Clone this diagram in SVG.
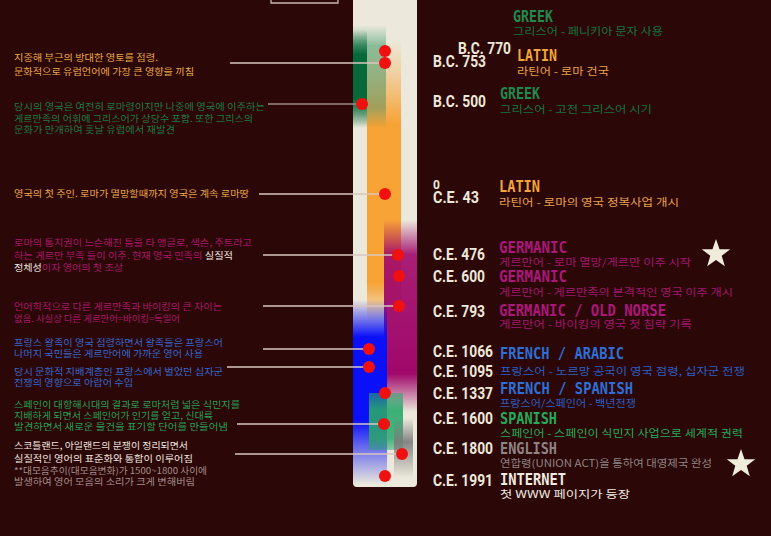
<svg xmlns="http://www.w3.org/2000/svg" width="771" height="536" viewBox="0 0 771 536">
<defs>
<style>
.bg{fill:#2c0707}
.date{font-family:Roboto,"DejaVu Sans",sans-serif;font-weight:bold;font-size:16px;fill:#eee8da}
.ttl{font-family:"DejaVu Sans Mono","Liberation Mono",monospace;font-weight:bold;font-size:16px}
.sub{font-family:"Noto Sans CJK KR","Noto Sans",sans-serif;font-size:10px}
.lt{font-family:"Noto Sans CJK KR","Noto Sans",sans-serif;font-size:9.2px}
.conn line{stroke:#d8c6bf;stroke-width:1.3}
.dot{fill:#f01010}
.star{fill:#f0ecdc}
.g1{fill:#1f8a4e}.g2{fill:#147442}
.o1{fill:#f2a53a}.o2{fill:#e9a04a}
.m1{fill:#ab177a}.m2{fill:#a0176e}
.b1{fill:#2c6fd6}.b2{fill:#2a5ec4}
.s1{fill:#25aa5a}
.e1{fill:#8e8484}
.w1{fill:#f0ebe0}
.lo{fill:#e9a84a}.lg{fill:#1d7a46}.lm{fill:#a9186c}.lb{fill:#3767cf}.lgs{fill:#24a055}.lw{fill:#f0e8e0}.lp{fill:#a58d8d}
</style>
<linearGradient id="gOr" x1="0" y1="0" x2="0" y2="1">
<stop offset="0" stop-color="#f7a030" stop-opacity="0"/>
<stop offset="0.12" stop-color="#f7a030" stop-opacity="0.35"/>
<stop offset="0.3" stop-color="#f7a030" stop-opacity="0.97"/>
<stop offset="0.86" stop-color="#f7a030" stop-opacity="0.97"/>
<stop offset="1" stop-color="#f7a030" stop-opacity="0"/>
</linearGradient>
<linearGradient id="gGrL" x1="0" y1="0" x2="0" y2="1">
<stop offset="0" stop-color="#3a9a6a" stop-opacity="0"/>
<stop offset="0.2" stop-color="#3a9a6a" stop-opacity="0.55"/>
<stop offset="0.8" stop-color="#3a8a5a" stop-opacity="0.45"/>
<stop offset="1" stop-color="#3a8a5a" stop-opacity="0"/>
</linearGradient>
<linearGradient id="gGrD" x1="0" y1="0" x2="0" y2="1">
<stop offset="0" stop-color="#07683a" stop-opacity="0"/>
<stop offset="0.25" stop-color="#07683a" stop-opacity="1"/>
<stop offset="0.7" stop-color="#07683a" stop-opacity="1"/>
<stop offset="1" stop-color="#07683a" stop-opacity="0"/>
</linearGradient>
<linearGradient id="gMg" x1="0" y1="0" x2="0" y2="1">
<stop offset="0" stop-color="#a0086a" stop-opacity="0"/>
<stop offset="0.18" stop-color="#a0086a" stop-opacity="0.9"/>
<stop offset="0.8" stop-color="#a0086a" stop-opacity="1"/>
<stop offset="1" stop-color="#a0086a" stop-opacity="0"/>
</linearGradient>
<linearGradient id="gBl" x1="0" y1="0" x2="0" y2="1">
<stop offset="0" stop-color="#0a10f8" stop-opacity="0"/>
<stop offset="0.2" stop-color="#0a10f8" stop-opacity="1"/>
<stop offset="0.65" stop-color="#0a10f8" stop-opacity="1"/>
<stop offset="1" stop-color="#0a10f8" stop-opacity="0"/>
</linearGradient>
<linearGradient id="gSp" x1="0" y1="0" x2="0" y2="1">
<stop offset="0" stop-color="#2aa86c" stop-opacity="0.55"/>
<stop offset="0.3" stop-color="#2aa86c" stop-opacity="0.9"/>
<stop offset="0.8" stop-color="#2aa86c" stop-opacity="0.85"/>
<stop offset="1" stop-color="#2aa86c" stop-opacity="0.5"/>
</linearGradient>
<linearGradient id="gGy" x1="0" y1="0" x2="0" y2="1">
<stop offset="0" stop-color="#7a7a7a" stop-opacity="0"/>
<stop offset="0.4" stop-color="#7a7a7a" stop-opacity="0.9"/>
<stop offset="1" stop-color="#7a7a7a" stop-opacity="0"/>
</linearGradient>
<polygon id="starShape" points="0,-15 3.53,-4.85 14.27,-4.64 5.71,1.85 8.82,12.14 0,6 -8.82,12.14 -5.71,1.85 -14.27,-4.64 -3.53,-4.85"/>
</defs>
<rect class="bg" x="0" y="0" width="771" height="536"/>
<path d="M271 0 V3 H338 V0" fill="none" stroke="#c8b8b0" stroke-width="1.3"/>

<g id="timeline-bar">
<rect x="353" y="-6" width="64" height="493" rx="4" fill="#ece9dc"/>
<rect x="367" y="40" width="34" height="282" fill="url(#gOr)"/>
<rect x="353" y="25" width="33" height="103" fill="url(#gGrL)"/>
<rect x="353" y="30" width="14" height="98" fill="url(#gGrD)"/>
<rect x="384" y="220" width="33" height="192" fill="url(#gMg)"/>
<rect x="353" y="300" width="34" height="185" fill="url(#gBl)"/>
<rect x="369" y="393" width="34" height="57" fill="url(#gSp)"/>
<rect x="394" y="418" width="19" height="60" fill="url(#gGy)"/>
</g>

<g id="connectors" class="conn">
<line x1="230" y1="63" x2="385" y2="63"/>
<line x1="268" y1="104" x2="362" y2="104" style="stroke:#9c8a8a"/>
<line x1="259" y1="194" x2="385" y2="194"/>
<line x1="263" y1="255" x2="398" y2="255"/>
<line x1="263" y1="306" x2="399" y2="306"/>
<line x1="263" y1="349" x2="369" y2="349"/>
<line x1="227" y1="367" x2="369" y2="367"/>
<line x1="237" y1="424" x2="384" y2="424"/>
<line x1="235" y1="454" x2="402" y2="454"/>
</g>

<g id="dots">
<circle class="dot" cx="385" cy="51" r="6"/>
<circle class="dot" cx="385" cy="63" r="6"/>
<circle class="dot" cx="362" cy="104" r="6"/>
<circle class="dot" cx="385" cy="194" r="6"/>
<circle class="dot" cx="398" cy="255" r="6"/>
<circle class="dot" cx="399" cy="276" r="6"/>
<circle class="dot" cx="399" cy="306" r="6"/>
<circle class="dot" cx="369" cy="349" r="6"/>
<circle class="dot" cx="369" cy="367" r="6"/>
<circle class="dot" cx="385" cy="393" r="6"/>
<circle class="dot" cx="384" cy="424" r="6"/>
<circle class="dot" cx="402" cy="454" r="6"/>
<circle class="dot" cx="385" cy="476" r="6"/>
</g>

<g id="node-bc770">
<text class="date" x="458" y="54" textLength="53" lengthAdjust="spacingAndGlyphs">B.C. 770</text>
<text class="ttl g1" x="513" y="22" textLength="40" lengthAdjust="spacingAndGlyphs">GREEK</text>
<text class="sub g2" x="513" y="35" textLength="150" lengthAdjust="spacingAndGlyphs">그리스어 - 페니키아 문자 사용</text>
</g>
<g id="node-bc753">
<text class="date" x="433" y="67" textLength="53" lengthAdjust="spacingAndGlyphs">B.C. 753</text>
<text class="ttl o1" x="517" y="61" textLength="40" lengthAdjust="spacingAndGlyphs">LATIN</text>
<text class="sub o2" x="517" y="75" textLength="92" lengthAdjust="spacingAndGlyphs">라틴어 - 로마 건국</text>
</g>
<g id="node-bc500">
<text class="date" x="433" y="107" textLength="53" lengthAdjust="spacingAndGlyphs">B.C. 500</text>
<text class="ttl g1" x="500" y="99" textLength="40" lengthAdjust="spacingAndGlyphs">GREEK</text>
<text class="sub g2" x="500" y="113" textLength="152" lengthAdjust="spacingAndGlyphs">그리스어 - 고전 그리스어 시기</text>
</g>
<g id="node-ce43">
<text class="date" x="433" y="189" style="font-size:12px">0</text>
<text class="date" x="433" y="203" textLength="46" lengthAdjust="spacingAndGlyphs">C.E. 43</text>
<text class="ttl o1" x="499" y="192" textLength="41" lengthAdjust="spacingAndGlyphs">LATIN</text>
<text class="sub o2" x="499" y="206" textLength="180" lengthAdjust="spacingAndGlyphs">라틴어 - 로마의 영국 정복사업 개시</text>
</g>
<g id="node-ce476">
<text class="date" x="433" y="260" textLength="52" lengthAdjust="spacingAndGlyphs">C.E. 476</text>
<text class="ttl m1" x="499" y="253" textLength="68" lengthAdjust="spacingAndGlyphs">GERMANIC</text>
<text class="sub m2" x="499" y="266" textLength="192" lengthAdjust="spacingAndGlyphs">게르만어 - 로마 멸망/게르만 이주 시작</text>
<use href="#starShape" class="star" x="716" y="254"/>
</g>
<g id="node-ce600">
<text class="date" x="433" y="282" textLength="52" lengthAdjust="spacingAndGlyphs">C.E. 600</text>
<text class="ttl m1" x="499" y="282" textLength="68" lengthAdjust="spacingAndGlyphs">GERMANIC</text>
<text class="sub m2" x="499" y="296" textLength="234" lengthAdjust="spacingAndGlyphs">게르만어 - 게르만족의 본격적인 영국 이주 개시</text>
</g>
<g id="node-ce793">
<text class="date" x="433" y="317" textLength="52" lengthAdjust="spacingAndGlyphs">C.E. 793</text>
<text class="ttl m1" x="499" y="316" textLength="167" lengthAdjust="spacingAndGlyphs">GERMANIC / OLD NORSE</text>
<text class="sub m2" x="499" y="328" textLength="193" lengthAdjust="spacingAndGlyphs">게르만어 - 바이킹의 영국 첫 침략 기록</text>
</g>
<g id="node-ce1066">
<text class="date" x="433" y="357" textLength="60" lengthAdjust="spacingAndGlyphs">C.E. 1066</text>
<text class="date" x="433" y="377" textLength="60" lengthAdjust="spacingAndGlyphs">C.E. 1095</text>
<text class="ttl b1" x="500" y="359" textLength="124" lengthAdjust="spacingAndGlyphs">FRENCH / ARABIC</text>
<text class="sub b2" x="500" y="375" textLength="245" lengthAdjust="spacingAndGlyphs">프랑스어 - 노르망 공국이 영국 점령, 십자군 전쟁</text>
</g>
<g id="node-ce1337">
<text class="date" x="433" y="399" textLength="60" lengthAdjust="spacingAndGlyphs">C.E. 1337</text>
<text class="ttl b1" x="500" y="394" textLength="133" lengthAdjust="spacingAndGlyphs">FRENCH / SPANISH</text>
<text class="sub b2" x="500" y="407" textLength="136" lengthAdjust="spacingAndGlyphs">프랑스어/스페인어 - 백년전쟁</text>
</g>
<g id="node-ce1600">
<text class="date" x="433" y="424" textLength="60" lengthAdjust="spacingAndGlyphs">C.E. 1600</text>
<text class="ttl s1" x="500" y="424" textLength="57" lengthAdjust="spacingAndGlyphs">SPANISH</text>
<text class="sub s1" x="500" y="437" textLength="243" lengthAdjust="spacingAndGlyphs">스페인어 - 스페인이 식민지 사업으로 세계적 권력</text>
</g>
<g id="node-ce1800">
<text class="date" x="433" y="454" textLength="60" lengthAdjust="spacingAndGlyphs">C.E. 1800</text>
<text class="ttl e1" x="500" y="454" textLength="57" lengthAdjust="spacingAndGlyphs">ENGLISH</text>
<text class="sub e1" x="500" y="467" textLength="212" lengthAdjust="spacingAndGlyphs">연합령(UNION ACT)을 통하여 대영제국 완성</text>
<use href="#starShape" class="star" x="741" y="464"/>
</g>
<g id="node-ce1991">
<text class="date" x="433" y="486" textLength="60" lengthAdjust="spacingAndGlyphs">C.E. 1991</text>
<text class="ttl w1" x="500" y="485" textLength="66" lengthAdjust="spacingAndGlyphs">INTERNET</text>
<text class="sub w1" x="500" y="498" textLength="130" lengthAdjust="spacingAndGlyphs">첫 WWW 페이지가 등장</text>
</g>

<g id="notes">
<g id="note-latin-empire" class="lt lo">
<text x="14" y="61" textLength="144" lengthAdjust="spacingAndGlyphs">지중해 부근의 방대한 영토를 점령.</text>
<text x="14" y="75" textLength="180" lengthAdjust="spacingAndGlyphs">문화적으로 유럽언어에 가장 큰 영향을 끼침</text>
</g>
<g id="note-greek" class="lt lg">
<text x="14" y="110" textLength="251" lengthAdjust="spacingAndGlyphs">당시의 영국은 여전히 로마령이지만 나중에 영국에 이주하는</text>
<text x="14" y="122" textLength="239" lengthAdjust="spacingAndGlyphs">게르만족의 어휘에 그리스어가 상당수 포함. 또한 그리스의</text>
<text x="14" y="133" textLength="161" lengthAdjust="spacingAndGlyphs">문화가 만개하여 훗날 유럽에서 재발견</text>
</g>
<g id="note-latin-britain" class="lt lo">
<text x="14" y="197" textLength="235" lengthAdjust="spacingAndGlyphs">영국의 첫 주인. 로마가 멸망할때까지 영국은 계속 로마땅</text>
</g>
<g id="note-germanic" class="lt lm">
<text x="14" y="246" textLength="238" lengthAdjust="spacingAndGlyphs">로마의 통치권이 느슨해진 틈을 타 앵글로, 색슨, 주트라고</text>
<text x="14" y="259" textLength="219" lengthAdjust="spacingAndGlyphs">하는 게르만 부족 들이 이주. 현재 영국 민족의 <tspan class="lw">실질적</tspan></text>
<text x="14" y="271" textLength="109" lengthAdjust="spacingAndGlyphs"><tspan class="lw">정체성</tspan>이자 영어의 첫 조상</text>
</g>
<g id="note-norse" class="lt lm">
<text x="14" y="310" textLength="208" lengthAdjust="spacingAndGlyphs">언어학적으로 다른 게르만족과 바이킹의 큰 차이는</text>
<text x="14" y="322" textLength="166" lengthAdjust="spacingAndGlyphs">없음. 사실상 다른 게르만어=바이킹=독일어</text>
</g>
<g id="note-french" class="lt lb">
<text x="14" y="346" textLength="209" lengthAdjust="spacingAndGlyphs">프랑스 왕족이 영국 점령하면서 왕족들은 프랑스어</text>
<text x="14" y="357" textLength="189" lengthAdjust="spacingAndGlyphs">나머지 국민들은 게르만어에 가까운 영어 사용</text>
</g>
<g id="note-arabic" class="lt lb">
<text x="14" y="375" textLength="209" lengthAdjust="spacingAndGlyphs">당시 문화적 지배계층인 프랑스에서 벌었던 십자군</text>
<text x="14" y="386" textLength="119" lengthAdjust="spacingAndGlyphs">전쟁의 영향으로 아랍어 수입</text>
</g>
<g id="note-spanish" class="lt lgs">
<text x="14" y="408" textLength="226" lengthAdjust="spacingAndGlyphs">스페인이 대항해시대의 결과로 로마처럼 넓은 식민지를</text>
<text x="14" y="419" textLength="199" lengthAdjust="spacingAndGlyphs">지배하게 되면서 스페인어가 인기를 얻고, 신대륙</text>
<text x="14" y="430" textLength="214" lengthAdjust="spacingAndGlyphs">발견하면서 새로운 물건을 표기할 단어를 만들어냄</text>
</g>
<g id="note-english" class="lt">
<text class="lw" x="14" y="449" textLength="174" lengthAdjust="spacingAndGlyphs">스코틀랜드, 아일랜드의 분쟁이 정리되면서</text>
<text class="lw" x="14" y="462" textLength="179" lengthAdjust="spacingAndGlyphs">실질적인 영어의 표준화와 통합이 이루어짐</text>
<text class="lp" x="14" y="474" textLength="193" lengthAdjust="spacingAndGlyphs">**대모음추이(대모음변화)가 1500~1800 사이에</text>
<text class="lp" x="14" y="485" textLength="181" lengthAdjust="spacingAndGlyphs">발생하여 영어 모음의 소리가 크게 변해버림</text>
</g>
</g>
</svg>
